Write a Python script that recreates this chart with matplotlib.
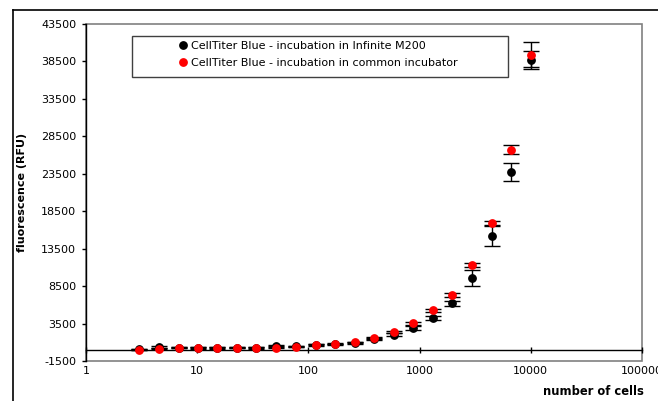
import numpy as np
import matplotlib
matplotlib.use("Agg")
import matplotlib.pyplot as plt
from matplotlib.patches import Rectangle
from matplotlib.lines import Line2D

plt.rcParams['font.family'] = ['DejaVu Sans']

# number of cells (1.5-fold dilution series)
cells = [10000, 6667, 4444, 2963, 1975, 1317, 878, 585, 390, 260, 173,
         116, 77, 51, 34, 23, 15.2, 10.1, 6.8, 4.5, 3.0]

# CellTiter Blue - incubation in Infinite M200
m200 = [38700, 23700, 15200, 9550, 6200, 4250, 2950, 2000, 1450, 920, 720,
        650, 440, 550, 260, 290, 260, 250, 300, 370, 50]
m200_err = [1200, 1200, 1300, 1050, 300, 300, 250, 200, 150, 100, 80,
            80, 80, 80, 80, 80, 80, 80, 80, 80, 80]

# CellTiter Blue - incubation in common incubator
common = [39400, 26700, 16900, 11300, 7340, 5270, 3510, 2350, 1560, 1020, 790,
          640, 420, 280, 240, 270, 240, 240, 280, 120, 10]
common_err = [1650, 600, 300, 300, 250, 200, 150, 150, 100, 80, 80,
              80, 80, 80, 80, 80, 80, 80, 80, 80, 80]

labels = ["CellTiter Blue - incubation in Infinite M200",
          "CellTiter Blue - incubation in common incubator"]
colors = ['black', '#ff0000']

yticks = np.arange(-1500, 43501, 5000)
xticks = [1, 10, 100, 1000, 10000, 100000]

fig = plt.figure(figsize=(6.58, 4.01), dpi=100)
ax = fig.add_axes([0.1307, 0.0998, 0.8450, 0.8403])

ax.errorbar(cells, m200, yerr=m200_err, fmt='o', color=colors[0], ms=5.3,
            ecolor='black', elinewidth=1, capsize=6, capthick=1, zorder=3)
ax.errorbar(cells, common, yerr=common_err, fmt='o', color=colors[1], ms=5.3,
            ecolor='black', elinewidth=1, capsize=6, capthick=1, zorder=4)

ax.set_xscale('log')
ax.set_xlim(1, 100000)
ax.set_ylim(-1500, 43500)
ax.set_yticks(yticks)
ax.set_yticklabels([str(v) for v in yticks])
ax.set_xticks(xticks)
ax.set_xticklabels([str(v) for v in xticks])
ax.xaxis.set_minor_locator(matplotlib.ticker.NullLocator())

# spines: gray plot-area border, black left axis, x axis at y=0
ax.patch.set_edgecolor('#808080')
ax.patch.set_linewidth(1.2)
ax.spines['top'].set_visible(False)
ax.spines['right'].set_visible(False)
ax.spines['left'].set_color('black')
ax.spines['left'].set_linewidth(1)
ax.spines['bottom'].set_position(('data', 0))
ax.spines['bottom'].set_color('black')
ax.spines['bottom'].set_linewidth(1)

ax.tick_params(axis='y', direction='out', length=3, width=1, pad=4,
               labelsize=8, colors='black')
ax.tick_params(axis='x', direction='inout', length=5, width=1, pad=9,
               labelsize=8, colors='black')

ax.set_ylabel('fluorescence (RFU)', fontsize=8, fontweight='bold', labelpad=10)
ax.text(1.003, -0.09, 'number of cells', transform=ax.transAxes, ha='right',
        va='center', fontsize=8.3, fontweight='bold')

# legend box
ax.add_patch(Rectangle((0.083, 0.844), 0.676, 0.120, transform=ax.transAxes,
                       facecolor='white', edgecolor='#404040', lw=1, zorder=5))
handles = [Line2D([], [], marker='o', ls='none', color=c, ms=5.3) for c in colors]
leg = ax.legend(handles, labels, loc='upper left', bbox_to_anchor=(0.166, 0.950),
                frameon=False, fontsize=8, handlelength=0.8, handletextpad=0.3,
                labelspacing=0.62, borderaxespad=0, borderpad=0)
leg.set_zorder(6)

# outer chart border (top and left)
fig.add_artist(Line2D([13 / 658, 1.0], [1 - 10 / 401, 1 - 10 / 401],
                      transform=fig.transFigure, color='black', lw=1.2))
fig.add_artist(Line2D([13 / 658, 13 / 658], [0, 1 - 10 / 401],
                      transform=fig.transFigure, color='black', lw=1.2))

fig.savefig('out.png', dpi=100)
